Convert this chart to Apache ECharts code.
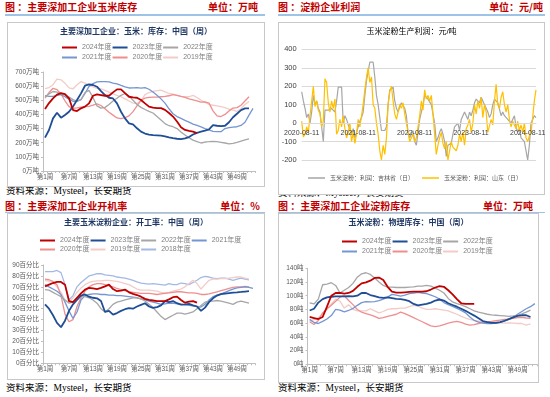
<!DOCTYPE html>
<html>
<head>
<meta charset="utf-8">
<script src="https://cdn.jsdelivr.net/npm/echarts@6/dist/echarts.min.js"></script>
<style>
  body { margin: 0; width: 550px; height: 397px; background: #fff; position: relative; overflow: hidden; }
  .hd { position: absolute; height: 14px; line-height: 14px; font-size: 10px; font-weight: bold; color: #c00000;
        font-family: "Noto Sans CJK SC", sans-serif; white-space: nowrap; }
  .rule { position: absolute; height: 1.5px; background: #9dc3e6; }
  .box { position: absolute; border: 1px solid #c8c8c8; background: #fff; box-sizing: border-box; }
  .src { position: absolute; font-size: 9.5px; line-height: 11px; color: #000; white-space: nowrap;
         font-family: "Liberation Serif", "Noto Sans CJK SC", serif; }
  .chart { position: absolute; }
</style>
</head>
<body>
<!-- 左上：玉米库存 -->
<div class="hd" style="left:5px;top:0">图 ：主要深加工企业玉米库存</div>
<div class="hd" style="right:292px;top:0">单位：万吨</div>
<div class="rule" style="left:5px;top:14px;width:260px"></div>
<div class="src" style="left:6px;top:186px">资料来源：Mysteel，长安期货</div>
<div class="box" style="left:7px;top:22px;width:258px;height:165px"></div>
<div id="cornStock" class="chart" style="left:7px;top:22px;width:258px;height:165px"></div>

<!-- 右上：淀粉利润 -->
<div class="hd" style="left:278px;top:0">图 ：淀粉企业利润</div>
<div class="hd" style="right:7px;top:0">单位：元/吨</div>
<div class="rule" style="left:278px;top:14px;width:267px"></div>
<div class="src" style="left:278px;top:188px">资料来源：Mysteel，长安期货</div>
<div class="box" style="left:278px;top:22px;width:267px;height:173px"></div>
<div id="profit" class="chart" style="left:278px;top:22px;width:267px;height:173px"></div>

<!-- 左下：开机率 -->
<div class="hd" style="left:5px;top:199px">图 ：主要深加工企业开机率</div>
<div class="hd" style="right:290px;top:199px">单位：%</div>
<div class="src" style="left:6px;top:383px">资料来源：Mysteel，长安期货</div>
<div class="box" style="left:7px;top:213px;width:258px;height:167px"></div>
<div class="rule" style="left:5px;top:211.5px;width:260px"></div>
<div id="runRate" class="chart" style="left:7px;top:213px;width:258px;height:167px"></div>

<!-- 右下：淀粉库存 -->
<div class="hd" style="left:278px;top:199px">图 ：主要深加工企业淀粉库存</div>
<div class="hd" style="right:17px;top:199px">单位：万吨</div>
<div class="src" style="left:278px;top:383px">资料来源：Mysteel，长安期货</div>
<div class="box" style="left:278px;top:213px;width:261px;height:170px"></div>
<div class="rule" style="left:278px;top:211.5px;width:267px"></div>
<div id="starchStock" class="chart" style="left:278px;top:213px;width:261px;height:170px"></div>

<script>
const FONT = '"Liberation Sans", "Noto Sans CJK SC", sans-serif';

// 周度横轴
const weeks = [];
for (let i = 1; i <= 53; i++) weeks.push('第' + i + '周');

const C2024 = '#c00000';
const C2023 = '#1f4e96';
const C2022 = '#a6a6a6';
const C2021 = '#7496d2';
const C2020 = '#ee8f8f';
const C2019 = '#f3cbc8';
const C2018 = '#a3b9e4';

// 玉米库存（万吨）
const corn2024 = [438, 480, 514, 540, 551, 544, 514, 431, 424, 443, 455, 478, 532, 542, 537, 532, 532, 556, 577, 577,
  551, 525, 520, 518, 502, 478, 455, 448, 445, 445, 432, 410, 385, 350, 310, 290, 283, 278, 268];
const corn2023 = [236, 290, 372, 412, 377, 396, 419, 455, 502, 549, 603, 612, 608, 596, 565, 537, 518, 513, 478, 419,
  372, 337, 330, 302, 278, 265, 258, 253, 252, 250, 245, 238, 232, 228, 226, 230, 240, 258, 270, 278,
  285, 295, 325, 320, 318, 320, 345, 380, 405, 430, 443, 443];
const corn2022 = [525, 545, 562, 558, 545, 537, 522, 505, 495, 505, 555, 570, 520, 460, 445, 450, 470, 495, 515, 535,
  548, 530, 500, 470, 450, 435, 422, 410, 385, 360, 335, 320, 313, 300, 275, 255, 235, 218, 208, 198,
  205, 207, 210, 208, 203, 198, 192, 195, 203, 212, 220, 228];
const corn2021 = [533, 528, 528, 535, 540, 525, 508, 493, 492, 505, 548, 598, 618, 630, 632, 632, 630, 622, 616, 605,
  595, 587, 588, 590, 586, 590, 578, 558, 535, 510, 480, 440, 405, 385, 372, 358, 345, 332, 322, 312,
  300, 290, 280, 278, 278, 300, 306, 310, 313, 322, 345, 395, 443];
const corn2020 = [515, 555, 585, 575, 545, 495, 455, 443, 447, 452, 455, 457, 465, 475, 463, 440, 415, 395, 375, 370,
  378, 390, 420, 460, 500, 515, 520, 522, 523, 525, 527, 532, 540, 535, 527, 520, 510, 503, 495, 487,
  488, 480, 425, 390, 385, 400, 425, 445, 448, 465, 495, 525];
const corn2019 = [583, 590, 610, 650, 645, 620, 588, 580, 610, 632, 622, 608, 595, 585, 580, 570, 558, 545, 535, 525,
  510, 495, 480, 478, 495, 540, 555, 563, 568, 572, 560, 548, 543, 535, 527, 525, 525, 535, 520, 500,
  485, 470, 465, 460, 455, 448, 438, 430, 422, 440, 470, 492];

// 开工率（%）
const rate2024 = [70.5, 72, 73.5, 74.5, 74.5, 72, 57, 56, 60, 64, 67.5, 69, 68.5, 68, 69, 70.5, 72, 68, 66, 66.5,
  67.5, 65, 63.5, 62.5, 61, 59, 58, 57.5, 57, 57, 57, 58.5, 60.5, 61, 58, 55.5, 56.5, 57, 55.5];
const rate2023 = [54, 50, 44, 37, 33, 39, 48, 54, 58, 62, 63, 61, 60, 59.5, 57, 47, 48, 44.5, 46, 48,
  49.5, 50.5, 50, 52, 53.5, 55, 52, 50.7, 51.5, 53, 57, 56, 57, 55, 53.8, 54, 54.4, 53, 52, 48,
  51, 56, 59.5, 62, 63.3, 63.8, 64.3, 64.8, 65, 65.3, 65.7, 66];
const rate2022 = [67.5, 67, 65, 63, 61, 58, 55, 56, 60, 62, 61, 60, 58, 55, 50, 47, 50, 54, 56, 57,
  58, 59, 60, 60, 59, 57, 54, 51, 47, 43, 40, 42, 44, 46, 46, 45, 46, 47, 50, 53,
  56, 57, 57, 57.5, 57, 56, 55, 54, 56, 57, 56, 55];
const rate2021 = [72, 70, 68, 66, 63, 56, 48, 41, 47, 58, 62, 63, 63.5, 63.5, 63, 63, 62.5, 62.5, 62, 62,
  61.5, 61, 60.5, 60, 59, 58, 57, 56, 55, 54, 54.5, 55, 55, 54.5, 54, 53.5, 53, 52.5, 52, 51.5,
  54, 58, 61, 62.5, 63.5, 65, 66.5, 68, 69, 69.5, 70, 69.5, 68.5];
const rate2020 = [77, 76.5, 75, 72, 62, 45, 38, 40, 52, 60, 66, 70, 72, 73, 73, 72, 71, 70, 68.5, 67.5,
  66.5, 65.5, 65, 64.5, 64, 64, 64, 63.5, 63, 63.5, 64, 64.5, 65, 65.5, 65.5, 65, 64.5, 64.5, 64, 63,
  63, 63.5, 64.5, 65.5, 66.5, 67.5, 68.5, 69.5, 70, 70, 70.5, 70];
const rate2019 = [76, 75, 74, 70, 65, 58, 56, 60, 65, 69, 72, 74, 75, 75.5, 75.5, 76, 76, 75.5, 75, 74,
  73, 72, 70, 68, 67, 67, 67, 66.5, 66, 65, 64.5, 65, 66, 67, 68, 70, 73, 76, 73, 68,
  72, 76, 77, 77, 77.5, 77.5, 78, 78.5, 79, 79, 78, 77];
const rate2018 = [84, 84, 84, 85, 83, 72, 58, 62, 70, 74, 77, 80, 81, 82, 82, 81, 80.5, 80, 79, 78.5,
  78, 77, 76, 74.5, 73.5, 73, 72.5, 73, 72.5, 72, 71.5, 73, 72, 72, 73.5, 73, 72, 74, 76, 78.5,
  79.5, 79, 78, 77.5, 78, 78, 77, 76, 77, 78, 77, 76.5];

// 淀粉库存（万吨）
const starch2024 = [69, 67.5, 66, 69, 84, 100, 104, 104, 103, 104, 107, 113, 118, 119.5, 122, 126, 126.5, 123, 113, 106,
  104.5, 104.5, 105, 105.5, 106, 106, 106, 106.5, 109, 112, 114, 113, 108, 102, 95, 89, 88, 88, 88];
const starch2023 = [78.5, 81, 90, 95, 97.5, 98.5, 99, 99, 99, 99.5, 99, 100, 104, 104, 101, 99.5, 97.5, 97, 97.5, 96.5,
  95.5, 95, 94, 92, 88, 86, 87, 88, 90, 93, 94.5, 93, 89, 86.5, 84, 81, 78, 74.5, 71, 67,
  63, 61.5, 60.5, 60.5, 61.5, 63.5, 66, 68.5, 70.5, 71.5, 71.5, 69];
const starch2022 = [89.5, 88, 95, 116, 117, 119, 115, 104, 108, 112, 118, 127, 132, 133.5, 131, 126, 120, 115, 112.5, 112.5,
  112, 112, 112, 112.5, 113, 114, 114, 115, 114, 111, 108, 104, 96, 91, 88.5, 86.5, 84, 81, 78, 76,
  74.5, 73, 72, 71.5, 71, 70.5, 70, 70.5, 71.5, 73.5, 76, 79];
const starch2021 = [65.5, 61, 59.5, 62.5, 66, 71, 80, 79, 76.5, 78.5, 81.5, 86, 90, 91.5, 91, 91.5, 93, 95, 98, 102,
  101, 99.5, 101, 103, 104, 105, 104, 103, 101, 98.5, 95, 90, 87, 84.5, 81.5, 78.5, 75, 69, 64, 61.5,
  60, 59.5, 59.5, 60, 61, 63, 66, 69, 73, 77, 81, 84, 88.5];
const starch2020 = [62, 58, 64, 75, 81, 86, 92, 98, 100, 93, 87, 80, 76, 74, 72, 70, 67, 68, 70, 71.5,
  73, 76, 74, 71, 68, 65, 62, 59, 56, 55, 56, 58, 60, 61.5, 62.5, 61, 58.5, 57, 58, 59.5,
  61, 62, 62.5, 63.5, 64.5, 65.5, 66, 67, 68, 68.5, 67.5, 67];
const starch2019 = [63, 65, 68, 74, 80, 88, 95, 92, 82, 87, 80, 78, 78, 78, 81, 78, 75, 77, 80, 81,
  81, 82, 82, 84, 86, 85, 82, 80, 80, 81, 80, 79, 78, 75.5, 73, 70, 67.5, 65.5, 64, 63,
  62, 61.5, 61, 60.5, 60.5, 60, 60.5, 60, 59.5, 59.5, 57, 59];

// 淀粉利润（元/吨），每年 34 个采样点，起点 2020-08-11
const profitJilin = [170, 120, 80, 30, 50, 0, 60, 150, 100, 120,
  80, 60, -20, -100, 70, 80, 70, 70, 80, 90,
  60, 120, 195, 195, 195, 0, 40, 20, -10, -30,
  -60, -30, -80, -50, -20, 10, 30, 60, 150, 230,
  240, 330, 340, 330, 250, 150, 100, 30, -40, -40,
  -40, -20, 100, 180, 190, 195, 120, 80, 60, 90,
  110, 120, 80, 40, -50, -80, -90, -40, -100, -120,
  -50, 20, 60, 100, 150, 160, 130, 140, 100, 50,
  0, -100, -80, -50, -30, -60, -100, -180, -120, -130,
  -110, -60, -20, -30, 0, -40, 20, 30, 60, 40,
  20, 60, 40, 70, 110, 130, 140, 110, 140, 120,
  100, 80, 60, 30, 50, 100, 130, 140, 110, 100,
  40, 60, 40, 30, 20, 10, 0, 10, 40, -20,
  -50, -30, -80, -70, -100, -150, -200, -120, 0, 20,
  40, 30];
const profitShandong = [10, -75, -60, -20, -50, 40, 120, 200, 90, 120,
  70, 50, -20, 10, 240, 220, 110, 60, 120, 80,
  130, -60, -40, 20, -20, 40, -30, -80, -50, 0,
  -100, -50, -110, -60, 20, -20, 40, 100, 180, 250,
  300, 220, 250, 100, 80, 0, -60, -150, -200, -120,
  -170, -80, 100, 170, 200, 120, 50, 20, 60, 100,
  80, 110, 50, 0, -50, -100, -90, -60, -100, -80,
  -20, 40, 120, 70, 180, 130, 150, 120, 150, 50,
  -60, -170, -120, -80, -50, -110, -140, -100, -200, -190,
  -100, -130, -140, -150, -120, -60, -100, -50, -120, -30,
  -10, 20, -50, 0, 100, 50, 120, 80, 140, 30,
  100, 60, -50, -60, 20, -10, 120, 210, 100, 80,
  140, 170, 100, 60, 100, 20, -20, 10, 20, -30,
  10, -40, -10, -50, 0, -80, -100, -70, -50, 30,
  120, 180];
const profitLabelDates = ['2020-08-11', '2021-08-11', '2022-08-11', '2023-08-11', '2024-08-11'];

function lineSeries(name, data, color, width, z) {
  return {
    name: name, type: 'line', data: data, symbol: 'none', z: z || 2,
    lineStyle: { color: color, width: width || 1.3 },
    itemStyle: { color: color }
  };
}

function weeklyChart(id, cfg) {
  const chart = echarts.init(document.getElementById(id));
  chart.setOption({
    animation: false,
    title: {
      text: cfg.title, left: 'center', top: 6, padding: 0,
      textStyle: { fontSize: 8, fontWeight: 'bold', color: '#1f3864', fontFamily: FONT }
    },
    legend: cfg.rows.map((row, k) => ({
      data: row, left: cfg.legendLeft, top: cfg.legendTop + k * cfg.legendStep, padding: 0,
      icon: 'rect', itemWidth: 15, itemHeight: 2, itemGap: 1,
      textStyle: { fontSize: 7, color: '#808080', fontFamily: FONT }
    })),
    grid: Object.assign({ outerBoundsMode: 'none', containLabel: false }, cfg.grid),
    xAxis: {
      type: 'category', data: weeks, boundaryGap: true,
      axisLine: { lineStyle: { color: '#bfbfbf', width: 1 } },
      axisTick: { show: true, interval: 0, length: 2, lineStyle: { color: '#bfbfbf' } },
      axisLabel: { interval: 5, fontSize: 6.5, color: '#595959', margin: 3, fontFamily: FONT },
      splitLine: { show: false }
    },
    yAxis: {
      type: 'value', min: 0, max: cfg.max, interval: cfg.interval,
      axisLine: { show: true, lineStyle: { color: '#bfbfbf', width: 1 } },
      axisTick: { show: true, length: 2, lineStyle: { color: '#bfbfbf' } },
      axisLabel: { formatter: '{value}' + cfg.unit, fontSize: 6.5, color: '#595959', margin: 4, fontFamily: FONT },
      splitLine: { show: false }
    },
    series: cfg.series
  });
}

weeklyChart('cornStock', {
  title: '主要深加工企业：玉米：库存：中国（周）',
  rows: [['2024年度', '2023年度', '2022年度'], ['2021年度', '2020年度', '2019年度']],
  legendLeft: 55, legendTop: 22, legendStep: 10,
  grid: { left: 36, right: 10, top: 50, bottom: 16 },
  max: 700, interval: 100, unit: '万吨',
  series: [
    lineSeries('2019年度', corn2019, C2019),
    lineSeries('2020年度', corn2020, C2020),
    lineSeries('2021年度', corn2021, C2021),
    lineSeries('2022年度', corn2022, C2022),
    lineSeries('2023年度', corn2023, C2023, 1.8, 5),
    lineSeries('2024年度', corn2024, C2024, 1.8, 6)
  ]
});

weeklyChart('runRate', {
  title: '主要玉米淀粉企业：开工率：中国（周）',
  rows: [['2024年度', '2023年度', '2022年度', '2021年度'], ['2020年度', '2019年度', '2018年度']],
  legendLeft: 33, legendTop: 24, legendStep: 9,
  grid: { left: 36, right: 10, top: 52, bottom: 16.7 },
  max: 90, interval: 10, unit: '百分比',
  series: [
    lineSeries('2018年度', rate2018, C2018),
    lineSeries('2019年度', rate2019, C2019),
    lineSeries('2020年度', rate2020, C2020),
    lineSeries('2021年度', rate2021, C2021),
    lineSeries('2022年度', rate2022, C2022),
    lineSeries('2023年度', rate2023, C2023, 1.8, 5),
    lineSeries('2024年度', rate2024, C2024, 1.8, 6)
  ]
});

weeklyChart('starchStock', {
  title: '玉米淀粉：物理库存：中国（周）',
  rows: [['2024年度', '2023年度', '2022年度'], ['2021年度', '2020年度', '2019年度']],
  legendLeft: 64, legendTop: 25, legendStep: 10,
  grid: { left: 29.5, right: 2, top: 55.3, bottom: 18.7 },
  max: 140, interval: 20, unit: '吨',
  series: [
    lineSeries('2019年度', starch2019, C2019),
    lineSeries('2020年度', starch2020, C2020),
    lineSeries('2021年度', starch2021, C2021),
    lineSeries('2022年度', starch2022, C2022),
    lineSeries('2023年度', starch2023, C2023, 1.8, 5),
    lineSeries('2024年度', starch2024, C2024, 1.8, 6)
  ]
});

// 利润图：横轴用时间戳数值
const t0 = Date.UTC(2020, 7, 11);
const stepMs = 365.25 / 34 * 864e5;
const withDates = arr => arr.map((v, i) => [t0 + i * stepMs, v]);
const tEnd = t0 + (profitJilin.length - 1) * stepMs;
const labelTimes = profitLabelDates.map(s => Date.parse(s + 'T00:00:00Z'));
const pad2 = n => (n < 10 ? '0' : '') + n;
const fmtDate = v => {
  const d = new Date(v);
  return d.getUTCFullYear() + '-' + pad2(d.getUTCMonth() + 1) + '-' + pad2(d.getUTCDate());
};

const profitGridH = 173 - 27.3 - 35;
const profitChart = echarts.init(document.getElementById('profit'));
profitChart.setOption({
  animation: false,
  title: {
    text: '玉米淀粉生产利润：元/吨', left: 'center', top: 6, padding: 0,
    textStyle: { fontSize: 8, fontWeight: 'normal', color: '#000', fontFamily: FONT }
  },
  legend: {
    data: ['玉米淀粉：利润：吉林省（日）', '玉米淀粉：利润：山东（日）'],
    left: 30, top: 153, padding: 0, icon: 'rect', itemWidth: 17, itemHeight: 1.5, itemGap: 8,
    textStyle: { fontSize: 6, color: '#595959', fontFamily: FONT }
  },
  grid: { left: 23.7, right: 9, top: 27.3, bottom: 35, outerBoundsMode: 'none', containLabel: false },
  xAxis: {
    type: 'value', min: t0, max: tEnd, z: 10,
    // 横轴放在 0 线上
    offset: -profitGridH * 200 / 600,
    axisLine: { show: true, onZero: false, lineStyle: { color: '#d9d9d9', width: 1 } },
    axisTick: { show: false },
    splitLine: { show: false },
    axisLabel: {
      customValues: labelTimes, formatter: fmtDate, fontSize: 7, color: '#404040', margin: 6,
      hideOverlap: false, fontFamily: FONT
    }
  },
  yAxis: {
    type: 'value', min: -200, max: 400, interval: 100,
    axisLine: { show: false }, axisTick: { show: false },
    splitLine: { lineStyle: { color: '#d9d9d9', width: 1 } },
    axisLabel: { fontSize: 7.5, color: '#404040', margin: 5, fontFamily: FONT }
  },
  series: [
    lineSeries('玉米淀粉：利润：吉林省（日）', withDates(profitJilin), '#a6a6a6', 1.2),
    lineSeries('玉米淀粉：利润：山东（日）', withDates(profitShandong), '#ffc000', 1.2, 3)
  ]
});
</script>
</body>
</html>
